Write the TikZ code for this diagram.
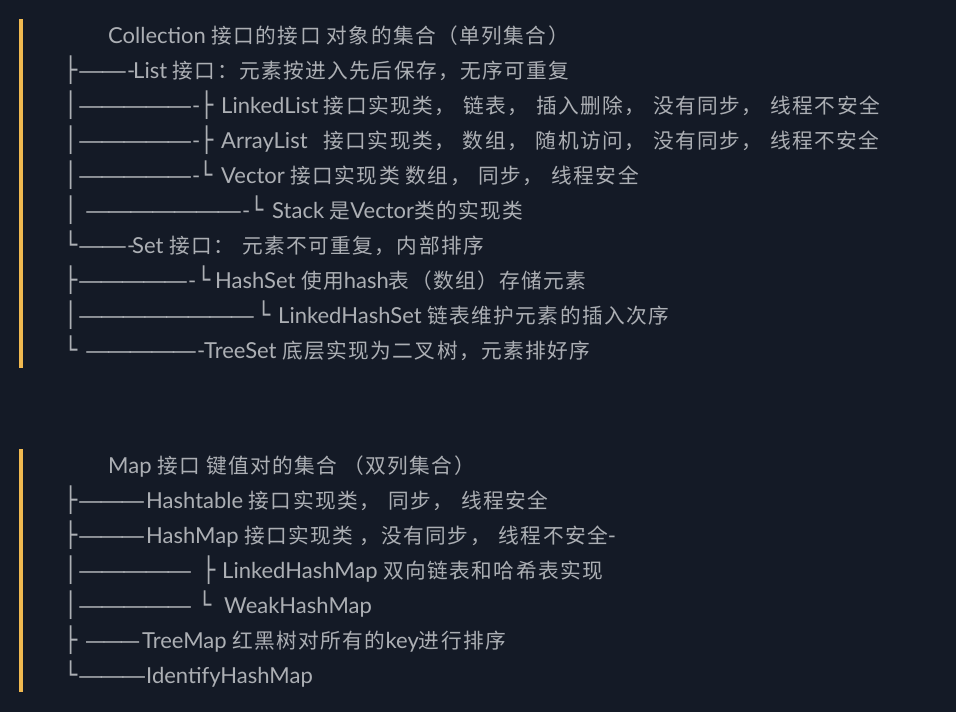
\documentclass[tikz,border=0pt]{standalone}
\usepackage{fontspec}
\usepackage{graphicx}
\setmainfont{Lato}
\newfontfamily\zh[Scale=0.94, LetterSpace=7]{Noto Sans CJK SC}
\newfontfamily\boxfont{DejaVu Sans}
\newfontfamily\dashfont[LetterSpace=-15]{DejaVu Sans}
\definecolor{bg}{RGB}{20, 26, 38}
\definecolor{quotebar}{RGB}{240, 185, 80}
\definecolor{textgrey}{RGB}{172, 175, 180}

% tree pieces: box glyph in a fixed box, stretched dash run, hyphen, wide gap
\newcommand\bx[2]{\makebox[#1][l]{\scalebox{1}[1.1]{\boxfont #2}}}
\newcommand\dashes[2]{\resizebox{#1}{\height}{\dashfont #2}}
\newcommand\hy[1]{\makebox[#1][l]{-}}
\newcommand\gap{\hspace{8pt}}

\begin{document}
\begin{tikzpicture}[
    x=1pt, y=-1pt,
    entry/.style={anchor=base west, inner sep=0pt, text=textgrey,
                  font=\fontsize{22}{26}\selectfont}
  ]
  \fill[bg] (0,0) rectangle (956,712);

  % Quote bars
  \fill[quotebar] (19,19)  rectangle (23,368);
  \fill[quotebar] (19,449) rectangle (23,692);

  % Collection
  \node[entry] (coll)   at (108,43)  {Collection {\zh 接口的接口 对象的集合（单列集合）}};
  \node[entry] (list)   at (64,78)   {\bx{14pt}{├}\dashes{49pt}{——}\hy{6pt}List {\zh 接口：元素按进入先后保存，无序可重复}};
  \node[entry] (llist)  at (64,113)  {\bx{14pt}{│}\dashes{114pt}{—————}\hy{8pt}\bx{21pt}{├}LinkedList {\zh 接口实现类，\gap 链表，\gap 插入删除，\gap 没有同步，\gap 线程不安全}};
  \node[entry] (alist)  at (64,148)  {\bx{14pt}{│}\dashes{114pt}{—————}\hy{8pt}\bx{21pt}{├}ArrayList\hspace{16pt}{\zh 接口实现类，\gap 数组，\gap 随机访问，\gap 没有同步，\gap 线程不安全}};
  \node[entry] (vector) at (64,183)  {\bx{14pt}{│}\dashes{114pt}{—————}\hy{7pt}\bx{22pt}{└}Vector {\zh 接口实现类 数组，\gap 同步，\gap 线程安全}};
  \node[entry] (stack)  at (64,218)  {\bx{21pt}{│}\dashes{157pt}{———————}\hy{8pt}\bx{22pt}{└}Stack {\zh 是}Vector{\zh 类的实现类}};
  \node[entry] (set)    at (64,253)  {\bx{14pt}{└}\dashes{49pt}{——}\hy{5pt}Set {\zh 接口：\gap 元素不可重复，内部排序}};
  \node[entry] (hset)   at (64,288)  {\bx{14pt}{├}\dashes{110pt}{—————}\hy{9pt}\bx{18pt}{└}HashSet {\zh 使用}hash{\zh 表（数组）存储元素}};
  \node[entry] (lhset)  at (64,323)  {\bx{14pt}{│}\dashes{177pt}{————————}\hspace{2pt}\bx{21pt}{└}LinkedHashSet {\zh 链表维护元素的插入次序}};
  \node[entry] (tset)   at (64,358)  {\bx{21pt}{└}\dashes{112pt}{—————}\hy{7pt}TreeSet {\zh 底层实现为二叉树，元素排好序}};

  % Map
  \node[entry] (map)    at (108,473) {Map {\zh 接口 键值对的集合 （双列集合）}};
  \node[entry] (htable) at (64,508)  {\bx{14pt}{├}\dashes{67pt}{———}\hspace{1pt}Hashtable {\zh 接口实现类，\gap 同步，\gap 线程安全}};
  \node[entry] (hmap)   at (64,543)  {\bx{14pt}{├}\dashes{67pt}{———}\hspace{1pt}HashMap {\zh 接口实现类 ，没有同步，\gap 线程不安全}-};
  \node[entry] (lhmap)  at (64,578)  {\bx{14pt}{│}\dashes{114pt}{—————}\hspace{10pt}\bx{20pt}{├}LinkedHashMap {\zh 双向链表和哈希表实现}};
  \node[entry] (whmap)  at (64,613)  {\bx{14pt}{│}\dashes{114pt}{—————}\hspace{6pt}\bx{26pt}{└}WeakHashMap};
  \node[entry] (tmap)   at (64,648)  {\bx{21pt}{├}\dashes{55pt}{———}\hspace{2pt}TreeMap {\zh 红黑树对所有的}key{\zh 进行排序}};
  \node[entry] (ihmap)  at (64,683)  {\bx{14pt}{└}\dashes{68pt}{———}IdentifyHashMap};
\end{tikzpicture}
\end{document}
